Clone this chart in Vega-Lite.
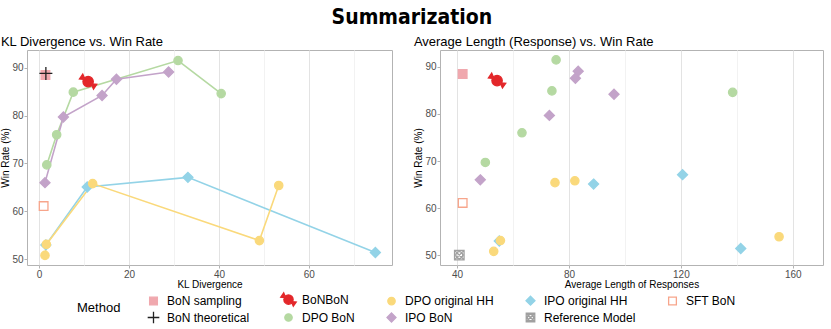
{
  "$schema": "https://vega.github.io/schema/vega-lite/v6.json",
  "padding": {"left": 0, "top": 6, "right": 5, "bottom": 0},
  "background": "white",
  "spacing": 20,
  "title": {"text": "Summarization", "font": "DejaVu Sans Condensed", "fontSize": 21, "fontWeight": "bold", "anchor": "middle", "color": "black", "offset": 8},
  "datasets": {
    "pts": [
      {"m": "DPO BoN", "kl": 1.7, "len": 50.1, "win": 69.7},
      {"m": "DPO BoN", "kl": 3.9, "len": 63.2, "win": 76.0},
      {"m": "DPO BoN", "kl": 7.6, "len": 73.9, "win": 84.9},
      {"m": "DPO BoN", "kl": 30.9, "len": 75.4, "win": 91.5},
      {"m": "DPO BoN", "kl": 40.5, "len": 138.5, "win": 84.6},
      {"m": "IPO BoN", "kl": 1.3, "len": 48.3, "win": 66.0},
      {"m": "IPO BoN", "kl": 5.4, "len": 73.0, "win": 79.7},
      {"m": "IPO BoN", "kl": 14.0, "len": 96.1, "win": 84.2},
      {"m": "IPO BoN", "kl": 17.2, "len": 82.3, "win": 87.6},
      {"m": "IPO BoN", "kl": 28.8, "len": 83.3, "win": 89.1},
      {"m": "IPO original HH", "kl": 1.5, "len": 55.1, "win": 53.0},
      {"m": "IPO original HH", "kl": 10.7, "len": 88.8, "win": 65.1},
      {"m": "IPO original HH", "kl": 33.1, "len": 120.6, "win": 67.1},
      {"m": "IPO original HH", "kl": 74.8, "len": 141.4, "win": 51.4},
      {"m": "DPO original HH", "kl": 1.3, "len": 53.1, "win": 50.8},
      {"m": "DPO original HH", "kl": 1.6, "len": 55.5, "win": 53.1},
      {"m": "DPO original HH", "kl": 11.9, "len": 82.1, "win": 65.8},
      {"m": "DPO original HH", "kl": 53.3, "len": 75.0, "win": 65.4},
      {"m": "DPO original HH", "kl": 49.0, "len": 155.1, "win": 53.9},
      {"m": "BoN sampling", "kl": 1.4, "len": 42.0, "win": 88.5},
      {"m": "BoN theoretical", "kl": 1.5, "len": null, "win": 88.8},
      {"m": "BoNBoN", "kl": 10.9, "len": 54.3, "win": 87.1},
      {"m": "SFT BoN", "kl": 1.0, "len": 42.0, "win": 61.1},
      {"m": "Reference Model", "kl": null, "len": 40.8, "win": 50.0}
    ]
  },
  "config": {
    "font": "Liberation Sans",
    "view": {"stroke": "#b3b3b3", "strokeWidth": 1},
    "axis": {
      "labelColor": "#4d4d4d", "labelFontSize": 10, "titleFontSize": 10, "titleFontWeight": "normal", "titleColor": "black",
      "domain": false, "tickColor": "#b3b3b3", "tickSize": 3, "labelPadding": 1, "titlePadding": 1
    },
    "axisX": {"titlePadding": 0},
    "title": {"fontSize": 13, "fontWeight": "normal", "anchor": "start", "color": "black", "offset": 1},
    "legend": {
      "orient": "none", "legendX": 50, "legendY": 241, "direction": "horizontal", "columns": 5,
      "titleOrient": "left", "titleFontSize": 13, "titleFontWeight": "normal", "titleColor": "black", "titleAnchor": "middle", "titlePadding": 24,
      "labelFontSize": 12, "labelColor": "black", "columnPadding": 28, "rowPadding": 0, "symbolStrokeWidth": 1.3, "symbolSize": 240, "labelOffset": 5
    }
  },
  "resolve": {"scale": {"x": "independent", "y": "independent"}},
  "hconcat": [
    {
      "title": "KL Divergence vs. Win Rate",
      "width": 365, "height": 215,
      "layer": [
        {
          "mark": {"type": "rule", "strokeDash": [2, 2], "color": "#555555", "strokeWidth": 1},
          "encoding": {"y": {"datum": 88.8, "type": "quantitative"}}
        },
        {
          "data": {"name": "pts"},
          "transform": [{"filter": "datum.kl != null && (datum.m == 'DPO BoN' || datum.m == 'IPO BoN' || datum.m == 'DPO original HH' || datum.m == 'IPO original HH')"}],
          "mark": {"type": "line", "strokeWidth": 1.6},
          "encoding": {
            "x": {"field": "kl", "type": "quantitative", "sort": null},
            "y": {"field": "win", "type": "quantitative"},
            "order": {"field": "kl", "type": "quantitative"},
            "color": {"field": "m", "type": "nominal", "legend": null,
              "scale": {"domain": ["DPO BoN", "IPO BoN", "DPO original HH", "IPO original HH"], "range": ["#b5d9a2", "#c3a3c9", "#fad97b", "#93d3e7"]}}
          }
        },
        {
          "data": {"name": "pts"},
          "transform": [{"filter": "datum.kl != null"}],
          "mark": {"type": "point", "opacity": 1, "strokeWidth": 1.3, "size": 300},
          "encoding": {
            "x": {"field": "kl", "type": "quantitative", "title": "KL Divergence",
              "scale": {"domain": [-2.7, 78.5], "nice": false, "zero": false},
              "axis": {"values": [0, 10, 20, 30, 40, 50, 60, 70], "labelExpr": "datum.value % 20 === 0 ? datum.label : ''",
                "gridColor": {"condition": {"test": "datum.value % 20 === 0", "value": "#e3e3e3"}, "value": "#f2f2f2"},
                "tickOpacity": {"condition": {"test": "datum.value % 20 === 0", "value": 1}, "value": 0}}},
            "y": {"field": "win", "type": "quantitative", "title": "Win Rate (%)",
              "scale": {"domain": [48.8, 93.7], "nice": false, "zero": false},
              "axis": {"values": [50, 55, 60, 65, 70, 75, 80, 85, 90], "labelExpr": "datum.value % 10 === 0 ? datum.label : ''",
                "gridColor": {"condition": {"test": "datum.value % 10 === 0", "value": "#e3e3e3"}, "value": "#f2f2f2"},
                "tickOpacity": {"condition": {"test": "datum.value % 10 === 0", "value": 1}, "value": 0}}},
            "fill": {"field": "m", "type": "nominal", "title": "Method",
              "scale": {"domain": ["BoN sampling", "BoNBoN", "DPO original HH", "IPO original HH", "SFT BoN", "BoN theoretical", "DPO BoN", "IPO BoN", "Reference Model"],
                "range": ["#f0a8ae", "#e3272a", "#fad97b", "#93d3e7", "transparent", "transparent", "#b5d9a2", "#c3a3c9", "transparent"]}},
            "stroke": {"field": "m", "type": "nominal", "title": "Method",
              "scale": {"domain": ["BoN sampling", "BoNBoN", "DPO original HH", "IPO original HH", "SFT BoN", "BoN theoretical", "DPO BoN", "IPO BoN", "Reference Model"],
                "range": ["#f0a8ae", "#e3272a", "#fad97b", "#93d3e7", "#f7a58b", "#222222", "#b5d9a2", "#c3a3c9", "#a0a0a0"]}},
            "shape": {"field": "m", "type": "nominal", "title": "Method",
              "scale": {"domain": ["BoN sampling", "BoNBoN", "DPO original HH", "IPO original HH", "SFT BoN", "BoN theoretical", "DPO BoN", "IPO BoN", "Reference Model"],
                "range": ["M-0.5,-0.5H0.5V0.5H-0.5Z", "M0.6,0A0.6,0.6,0,1,1,-0.6,0A0.6,0.6,0,1,1,0.6,0Z M0.35,0.24L0.62,0.86L1,0.3Z M-0.35,-0.24L-0.62,-0.86L-1,-0.3Z", "M0.48,0A0.48,0.48,0,1,1,-0.48,0A0.48,0.48,0,1,1,0.48,0Z", "M0,-0.58L0.58,0L0,0.58L-0.58,0Z", "M-0.5,-0.5H0.5V0.5H-0.5Z", "M-0.75,0L0.75,0M0,-0.75L0,0.75", "M0.48,0A0.48,0.48,0,1,1,-0.48,0A0.48,0.48,0,1,1,0.48,0Z", "M0,-0.58L0.58,0L0,0.58L-0.58,0Z", "M-0.55,-0.55L0.55,-0.55L0.55,0.55L-0.55,0.55Z M-0.55,-0.55L0.55,0.55M0.55,-0.55L-0.55,0.55 M0.4,0A0.4,0.4,0,1,1,-0.4,0A0.4,0.4,0,1,1,0.4,0"]}}
          }
        }
      ]
    },
    {
      "title": "Average Length (Response) vs. Win Rate",
      "width": 383, "height": 215,
      "layer": [
        {
          "mark": {"type": "rule", "strokeDash": [2, 2], "color": "#555555", "strokeWidth": 1},
          "encoding": {"y": {"datum": 88.8, "type": "quantitative"}}
        },
        {
          "data": {"name": "pts"},
          "transform": [{"filter": "datum.len != null"}],
          "mark": {"type": "point", "opacity": 1, "strokeWidth": 1.3, "size": 300},
          "encoding": {
            "x": {"field": "len", "type": "quantitative", "title": "Average Length of Responses",
              "scale": {"domain": [33.9, 170.8], "nice": false, "zero": false},
              "axis": {"values": [40, 60, 80, 100, 120, 140, 160], "labelExpr": "datum.value % 40 === 0 ? datum.label : ''",
                "gridColor": {"condition": {"test": "datum.value % 40 === 0", "value": "#e3e3e3"}, "value": "#f2f2f2"},
                "tickOpacity": {"condition": {"test": "datum.value % 40 === 0", "value": 1}, "value": 0}}},
            "y": {"field": "win", "type": "quantitative", "title": "Win Rate (%)",
              "scale": {"domain": [47.9, 93.6], "nice": false, "zero": false},
              "axis": {"values": [50, 55, 60, 65, 70, 75, 80, 85, 90], "labelExpr": "datum.value % 10 === 0 ? datum.label : ''",
                "gridColor": {"condition": {"test": "datum.value % 10 === 0", "value": "#e3e3e3"}, "value": "#f2f2f2"},
                "tickOpacity": {"condition": {"test": "datum.value % 10 === 0", "value": 1}, "value": 0}}},
            "fill": {"field": "m", "type": "nominal", "title": "Method",
              "scale": {"domain": ["BoN sampling", "BoNBoN", "DPO original HH", "IPO original HH", "SFT BoN", "BoN theoretical", "DPO BoN", "IPO BoN", "Reference Model"],
                "range": ["#f0a8ae", "#e3272a", "#fad97b", "#93d3e7", "transparent", "transparent", "#b5d9a2", "#c3a3c9", "transparent"]}},
            "stroke": {"field": "m", "type": "nominal", "title": "Method",
              "scale": {"domain": ["BoN sampling", "BoNBoN", "DPO original HH", "IPO original HH", "SFT BoN", "BoN theoretical", "DPO BoN", "IPO BoN", "Reference Model"],
                "range": ["#f0a8ae", "#e3272a", "#fad97b", "#93d3e7", "#f7a58b", "#222222", "#b5d9a2", "#c3a3c9", "#a0a0a0"]}},
            "shape": {"field": "m", "type": "nominal", "title": "Method",
              "scale": {"domain": ["BoN sampling", "BoNBoN", "DPO original HH", "IPO original HH", "SFT BoN", "BoN theoretical", "DPO BoN", "IPO BoN", "Reference Model"],
                "range": ["M-0.5,-0.5H0.5V0.5H-0.5Z", "M0.6,0A0.6,0.6,0,1,1,-0.6,0A0.6,0.6,0,1,1,0.6,0Z M0.35,0.24L0.62,0.86L1,0.3Z M-0.35,-0.24L-0.62,-0.86L-1,-0.3Z", "M0.48,0A0.48,0.48,0,1,1,-0.48,0A0.48,0.48,0,1,1,0.48,0Z", "M0,-0.58L0.58,0L0,0.58L-0.58,0Z", "M-0.5,-0.5H0.5V0.5H-0.5Z", "M-0.75,0L0.75,0M0,-0.75L0,0.75", "M0.48,0A0.48,0.48,0,1,1,-0.48,0A0.48,0.48,0,1,1,0.48,0Z", "M0,-0.58L0.58,0L0,0.58L-0.58,0Z", "M-0.55,-0.55L0.55,-0.55L0.55,0.55L-0.55,0.55Z M-0.55,-0.55L0.55,0.55M0.55,-0.55L-0.55,0.55 M0.4,0A0.4,0.4,0,1,1,-0.4,0A0.4,0.4,0,1,1,0.4,0"]}}
          }
        }
      ]
    }
  ]
}
